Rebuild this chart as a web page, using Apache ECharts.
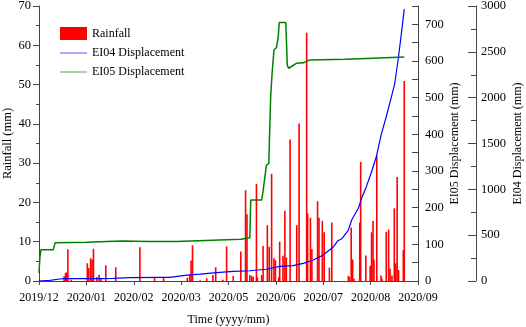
<!DOCTYPE html>
<html>
<head>
<meta charset="utf-8">
<script src="https://cdn.jsdelivr.net/npm/echarts@6/dist/echarts.min.js"></script>
<style>
  html, body { margin: 0; padding: 0; background: #fff; }
  #chart { width: 526px; height: 327px; }
</style>
</head>
<body>
<div id="chart"></div>
<script>
// x positions are in "month steps" along the axis (0 = 2019/12 ... 8 = 2020/09)
var monthLabels = ['2019/12', '2020/01', '2020/02', '2020/03', '2020/05', '2020/06', '2020/07', '2020/08', '2020/09'];

// rainfall (mm)
var rainPos = [0.01, 0.53, 0.56, 0.58, 0.61, 0.68,
    1.02, 1.05, 1.09, 1.12, 1.15, 1.22, 1.27, 1.31, 1.41, 1.62,
    2.13, 2.44, 2.63,
    3.13, 3.18, 3.21, 3.24, 3.40, 3.54, 3.67, 3.73, 3.88, 3.96,
    4.10, 4.26, 4.36, 4.39, 4.45, 4.49, 4.52, 4.59, 4.61, 4.70, 4.73, 4.82, 4.86, 4.91, 4.96, 4.99,
    5.06, 5.08, 5.15, 5.19, 5.22, 5.30, 5.44, 5.49, 5.65, 5.67, 5.73, 5.76, 5.88, 5.91, 5.98,
    6.02, 6.13, 6.18, 6.53, 6.55, 6.59, 6.62, 6.65, 6.77, 6.79, 6.90, 6.99,
    7.02, 7.05, 7.07, 7.13, 7.22, 7.24, 7.33, 7.38, 7.41, 7.45, 7.50, 7.53, 7.56, 7.59, 7.69, 7.71];
var rainVal = [0.3, 1.2, 2.0, 2.2, 8.1, 0.3,
    4.5, 3.3, 5.8, 5.5, 8.2, 1.0, 1.6, 0.8, 4.0, 3.5,
    8.6, 1.0, 1.0,
    0.8, 1.5, 5.2, 9.1, 0.2, 0.7, 1.5, 3.5, 0.3, 8.8,
    1.3, 7.5, 23.1, 17.0, 1.5, 1.3, 1.1, 24.7, 0.9, 1.5, 8.9, 14.2, 8.7, 27.3, 5.8, 5.3,
    0.9, 10.0, 6.4, 17.9, 6.0, 36.0, 14.2, 40.1, 63.2, 17.2, 16.1, 8.1, 20.3, 16.1, 15.3,
    12.4, 3.4, 14.9, 1.3, 1.0, 13.6, 5.5, 0.6, 14.9, 30.3, 6.5, 3.9,
    12.4, 15.3, 5.5, 31.9, 1.4, 0.6, 12.5, 13.1, 3.2, 1.4, 18.5, 4.5, 26.5, 2.8, 7.9, 50.9];

// EI04 displacement (mm), outer right axis
var ei04Pos = [0, 0.23, 0.44, 0.51, 1.22, 1.57, 1.92, 2.55, 2.76, 3.12, 3.40, 3.75, 4.10, 4.45, 4.80, 4.84,
    5.08, 5.36, 5.58, 5.79, 6.00, 6.21, 6.31, 6.39, 6.53, 6.60, 6.74, 6.81, 6.91,
    7.02, 7.12, 7.23, 7.33, 7.44, 7.51, 7.58, 7.65, 7.71];
var ei04Val = [0, 7, 22, 25, 25, 29, 36, 40, 40, 65, 76, 91, 106, 112, 128, 134,
    160, 167, 193, 229, 284, 370, 440, 460, 556, 665, 793, 902, 1029,
    1192, 1356, 1611, 1792, 2011, 2157, 2411, 2702, 2966];

// EI05 displacement (mm), inner right axis
var ei05Pos = [0, 0.02, 0.04, 0.30, 0.34, 0.37, 1.01, 1.43, 1.75, 2.34, 2.91, 2.93, 4.26, 4.29, 4.45, 4.47,
    4.70, 4.73, 4.77, 4.80, 4.85, 4.89, 4.92, 4.96, 5.01, 5.05, 5.07, 5.21, 5.24, 5.27, 5.33,
    5.44, 5.58, 5.72, 6.46, 6.91, 7.71];
var ei05Val = [22, 66, 85, 85, 104, 105, 106, 108, 109, 108, 108, 112, 114, 118, 118, 221,
    221, 245, 250, 316, 320, 503, 566, 630, 636, 666, 705, 705, 589, 580, 585,
    594, 595, 603, 605, 607, 611];

function pairs(xs, ys) {
    var out = [];
    for (var i = 0; i < xs.length; i++) {
        out.push([xs[i], ys[i]]);
    }
    return out;
}

var font = 'Liberation Serif';
var axisColor = '#444';
// thin bar used as legend marker so line entries show a plain line
var lineIcon = 'path://M0,0L40,0L40,1L0,1Z';

var chart = echarts.init(document.getElementById('chart'));
chart.setOption({
    backgroundColor: '#fff',
    animation: false,
    textStyle: { fontFamily: font },
    grid: { left: 39, right: 108, top: 6, bottom: 46, outerBoundsMode: 'none' },
    legend: {
        orient: 'vertical',
        left: 60,
        top: 27,
        padding: 0,
        itemWidth: 27,
        itemHeight: 13,
        itemGap: 7,
        selectedMode: false,
        textStyle: { fontFamily: font, fontSize: 12, color: '#000' },
        data: [
            { name: 'Rainfall', icon: 'rect' },
            { name: 'EI04 Displacement', icon: lineIcon },
            { name: 'EI05 Displacement', icon: lineIcon }
        ]
    },
    xAxis: {
        type: 'value',
        min: 0,
        max: 8,
        interval: 1,
        name: 'Time (yyyy/mm)',
        nameLocation: 'middle',
        nameGap: 33,
        nameMoveOverlap: false,
        nameTextStyle: { fontFamily: font, fontSize: 12, color: '#000' },
        splitLine: { show: false },
        axisLine: { show: true, lineStyle: { color: axisColor, width: 1 } },
        axisTick: { show: true, inside: false, length: 4, lineStyle: { color: axisColor } },
        axisLabel: {
            margin: 11,
            fontFamily: font, fontSize: 12, color: '#000',
            formatter: function (v) { return monthLabels[Math.round(v)] || ''; }
        }
    },
    yAxis: [
        {
            type: 'value',
            position: 'left',
            min: 0,
            max: 70,
            interval: 10,
            name: 'Rainfall (mm)',
            nameLocation: 'middle',
            nameGap: 25,
            nameMoveOverlap: false,
            nameRotate: 90,
            nameTextStyle: { fontFamily: font, fontSize: 12.5, color: '#000' },
            splitLine: { show: false },
            axisLine: { show: true, lineStyle: { color: axisColor } },
            axisTick: { show: true, inside: false, length: 6, lineStyle: { color: axisColor } },
            minorTick: { show: true, splitNumber: 2, length: 3, lineStyle: { color: axisColor } },
            axisLabel: { margin: 8, fontFamily: font, fontSize: 12.5, color: '#000' }
        },
        {
            type: 'value',
            position: 'right',
            min: 0,
            max: 750,
            interval: 50,
            name: 'EI05 Displacement (mm)',
            nameLocation: 'middle',
            nameGap: 31,
            nameMoveOverlap: false,
            nameRotate: 90,
            nameTextStyle: { fontFamily: font, fontSize: 12, color: '#000' },
            splitLine: { show: false },
            axisLine: { show: true, lineStyle: { color: axisColor } },
            axisTick: { show: true, inside: true, length: 6, lineStyle: { color: axisColor } },
            axisLabel: {
                margin: 7, fontFamily: font, fontSize: 12.5, color: '#000',
                formatter: function (v) { return v % 100 === 0 ? String(v) : ''; }
            }
        },
        {
            type: 'value',
            position: 'right',
            offset: 58,
            min: 0,
            max: 3000,
            interval: 500,
            name: 'EI04 Displacement (mm)',
            nameLocation: 'middle',
            nameGap: 36,
            nameMoveOverlap: false,
            nameRotate: 90,
            nameTextStyle: { fontFamily: font, fontSize: 12, color: '#000' },
            splitLine: { show: false },
            axisLine: { show: true, lineStyle: { color: axisColor } },
            axisTick: { show: true, inside: true, length: 8, lineStyle: { color: axisColor } },
            minorTick: { show: true, splitNumber: 2, length: 5, lineStyle: { color: axisColor } },
            axisLabel: {
                margin: 5, fontFamily: font, fontSize: 12.5, color: '#000',
                formatter: function (v) { return String(v); }
            }
        }
    ],
    series: [
        {
            name: 'Rainfall',
            type: 'bar',
            yAxisIndex: 0,
            barWidth: 1.6,
            itemStyle: { color: '#ff0000' },
            data: pairs(rainPos, rainVal)
        },
        {
            name: 'EI04 Displacement',
            type: 'line',
            yAxisIndex: 2,
            symbol: 'none',
            lineStyle: { color: '#0000ff', width: 1.2 },
            itemStyle: { color: '#0000ff' },
            data: pairs(ei04Pos, ei04Val)
        },
        {
            name: 'EI05 Displacement',
            type: 'line',
            yAxisIndex: 1,
            symbol: 'none',
            lineStyle: { color: '#008000', width: 1.5 },
            itemStyle: { color: '#008000' },
            data: pairs(ei05Pos, ei05Val)
        }
    ]
});
</script>
</body>
</html>
